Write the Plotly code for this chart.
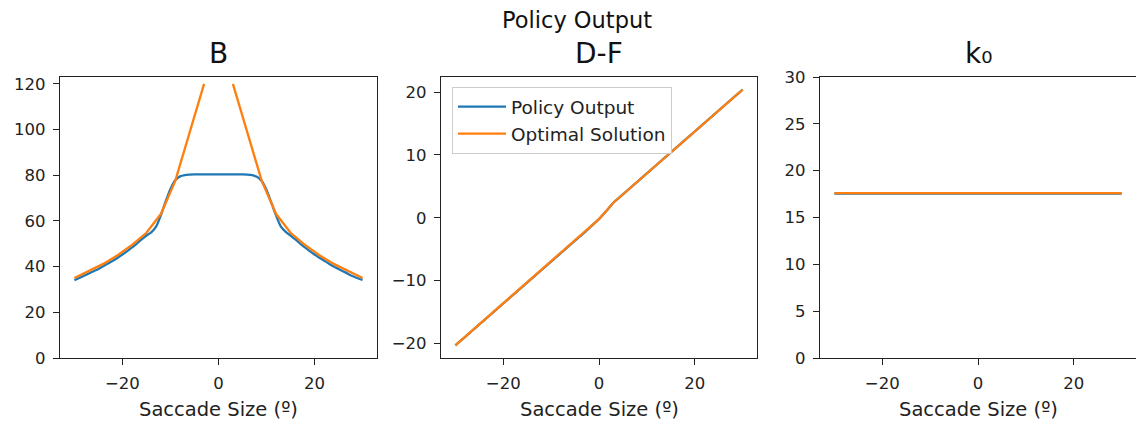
import plotly.graph_objects as go

# ---- data -------------------------------------------------------------
# saccade sizes (deg) at which the optimal solution was evaluated
x_opt = [-30, -27, -24, -21, -18, -15, -12, -9, -6, -3, 0,
         3, 6, 9, 12, 15, 18, 21, 24, 27, 30]
# saccade sizes (deg) at which the policy network was queried
x_pol = list(range(-30, 31))

# B: optimal diverges near zero (no value at 0)
b_opt = [35.0, 38.0, 41.2, 45.0, 49.5, 54.8, 63.0, 77.5, 99.0, 120.0, None,
         120.0, 99.0, 77.5, 63.0, 54.8, 49.5, 45.0, 41.2, 38.0, 35.0]
b_pol = [34.0, 35.0, 36.0, 37.0, 38.0, 39.0, 40.2, 41.4, 42.6, 43.9,
         45.3, 46.8, 48.4, 50.1, 51.9, 53.6, 55.0, 57.5, 62.5, 68.5,
         74.0, 77.8, 79.5, 80.1, 80.3, 80.4, 80.4, 80.4, 80.4, 80.4,
         80.4,
         80.4, 80.4, 80.4, 80.4, 80.4, 80.3, 80.0, 79.3, 77.5, 73.5,
         68.0, 62.3, 57.5, 55.2, 53.6, 51.9, 50.1, 48.4, 46.8, 45.3,
         43.9, 42.6, 41.3, 40.1, 39.0, 37.9, 36.8, 35.8, 34.9, 34.2]

# D-F
df_opt = [-20.3, -18.3, -16.3, -14.3, -12.3, -10.3, -8.3, -6.3, -4.3, -2.3, -0.2,
          2.4, 4.4, 6.4, 8.4, 10.4, 12.4, 14.4, 16.4, 18.4, 20.4]
df_pol = [-20.30, -19.63, -18.97, -18.30, -17.63, -16.97, -16.30, -15.63, -14.97, -14.30,
          -13.63, -12.97, -12.30, -11.63, -10.97, -10.30, -9.63, -8.97, -8.30, -7.63,
          -6.97, -6.30, -5.63, -4.97, -4.30, -3.63, -2.97, -2.30, -1.60, -0.90,
          -0.20,
          0.65, 1.50, 2.40, 3.07, 3.73, 4.40, 5.07, 5.73, 6.40, 7.07,
          7.73, 8.40, 9.07, 9.73, 10.40, 11.07, 11.73, 12.40, 13.07, 13.73,
          14.40, 15.07, 15.73, 16.40, 17.07, 17.73, 18.40, 19.07, 19.73, 20.40]

# k0
k0_opt = [17.6, 17.6, 17.6, 17.6, 17.6, 17.6, 17.6, 17.6, 17.6, 17.6, 17.6,
          17.6, 17.6, 17.6, 17.6, 17.6, 17.6, 17.6, 17.6, 17.6, 17.6]
k0_pol = [17.55, 17.55, 17.55, 17.55, 17.55, 17.55, 17.55, 17.55, 17.55, 17.55,
          17.55, 17.55, 17.55, 17.55, 17.55, 17.55, 17.55, 17.55, 17.55, 17.55,
          17.55, 17.55, 17.55, 17.55, 17.55, 17.55, 17.55, 17.55, 17.55, 17.55,
          17.55,
          17.55, 17.55, 17.55, 17.55, 17.55, 17.55, 17.55, 17.55, 17.55, 17.55,
          17.55, 17.55, 17.55, 17.55, 17.55, 17.55, 17.55, 17.55, 17.55, 17.55,
          17.55, 17.55, 17.55, 17.55, 17.55, 17.55, 17.55, 17.55, 17.55, 17.55]

panel_titles = ["B", "D-F", "k₀"]
x_label = "Saccade Size (º)"
suptitle = "Policy Output"
series_names = ["Policy Output", "Optimal Solution"]

x_ticks = [-20, 0, 20]
x_ticktext = ["−20", "0", "20"]
y_ticks = [[0, 20, 40, 60, 80, 100, 120],
           [-20, -10, 0, 10, 20],
           [0, 5, 10, 15, 20, 25, 30]]
y_ticktext = [["0", "20", "40", "60", "80", "100", "120"],
              ["−20", "−10", "0", "10", "20"],
              ["0", "5", "10", "15", "20", "25", "30"]]
y_ranges = [[0, 123], [-22.3, 22.4], [0, 30]]

# ---- style ------------------------------------------------------------
BLUE = "#1f77b4"
ORANGE = "#ff7f0e"
FONT = "DejaVu Sans"
LW = 2.3

W, H = 1136, 425
ML, MR, MT, MB = 60, 0, 77, 67
PW = W - ML - MR
PH = H - MT - MB

# panel pixel extents (left, right) in figure coordinates
panel_px = [(60, 377), (441, 757), (820, 1137)]
domains = [[(l - ML) / PW, min((r - ML) / PW, 1.0)] for l, r in panel_px]

fig = go.Figure()

pol_sets = [b_pol, df_pol, k0_pol]
opt_sets = [b_opt, df_opt, k0_opt]

for i in range(3):
    xa = "x" if i == 0 else f"x{i + 1}"
    ya = "y" if i == 0 else f"y{i + 1}"
    fig.add_trace(go.Scatter(
        x=x_pol, y=pol_sets[i], mode="lines", name=series_names[0],
        line=dict(color=BLUE, width=LW, shape="spline", smoothing=0.8),
        xaxis=xa, yaxis=ya, showlegend=(i == 1), connectgaps=False))
    fig.add_trace(go.Scatter(
        x=x_opt, y=opt_sets[i], mode="lines", name=series_names[1],
        line=dict(color=ORANGE, width=LW), xaxis=xa, yaxis=ya,
        showlegend=(i == 1), connectgaps=False))

axis_common = dict(
    showline=True, mirror=True, linecolor="#222222", linewidth=1.2,
    ticks="outside", ticklen=6, tickwidth=1.2, tickcolor="#222222",
    showgrid=False, zeroline=False,
    tickfont=dict(family=FONT, size=16.5, color="#222222"),
)

layout_axes = {}
for i in range(3):
    xkey = "xaxis" if i == 0 else f"xaxis{i + 1}"
    ykey = "yaxis" if i == 0 else f"yaxis{i + 1}"
    ya = "y" if i == 0 else f"y{i + 1}"
    xa = "x" if i == 0 else f"x{i + 1}"
    layout_axes[xkey] = dict(
        axis_common, domain=domains[i], range=[-33, 33], anchor=ya,
        tickvals=x_ticks, ticktext=x_ticktext, ticklabelstandoff=4)
    layout_axes[ykey] = dict(
        axis_common, domain=[0, 1], range=y_ranges[i], anchor=xa,
        tickvals=y_ticks[i], ticktext=y_ticktext[i], ticklabelstandoff=4)

annotations = []
for i in range(3):
    cx = (domains[i][0] + (panel_px[i][1] - ML) / PW) / 2
    # panel title
    annotations.append(dict(
        text=panel_titles[i], xref="paper", yref="paper",
        x=cx, y=(H - MB - 54) / PH, xanchor="center", yanchor="middle",
        showarrow=False, font=dict(family=FONT, size=28, color="#111111")))
    # x-axis label
    annotations.append(dict(
        text=x_label, xref="paper", yref="paper",
        x=cx, y=(H - MB - 409) / PH, xanchor="center", yanchor="middle",
        showarrow=False, font=dict(family=FONT, size=19.5, color="#222222")))

# figure title
annotations.append(dict(
    text=suptitle, xref="paper", yref="paper",
    x=(577 - ML) / PW, y=(H - MB - 20) / PH, xanchor="center", yanchor="middle",
    showarrow=False, font=dict(family=FONT, size=22.5, color="#111111")))

fig.update_layout(
    width=W, height=H,
    margin=dict(l=ML, r=MR, t=MT, b=MB, pad=0),
    paper_bgcolor="white", plot_bgcolor="white",
    annotations=annotations,
    showlegend=True,
    legend=dict(
        x=(452 - ML) / PW, y=(H - MB - 87) / PH, xanchor="left", yanchor="top",
        xref="paper", yref="paper",
        bgcolor="rgba(255,255,255,0.8)", bordercolor="#cccccc", borderwidth=1,
        font=dict(family=FONT, size=18.5, color="#222222"),
        itemwidth=48, tracegroupgap=0,
    ),
    **layout_axes,
)

fig.write_html("out.html")
